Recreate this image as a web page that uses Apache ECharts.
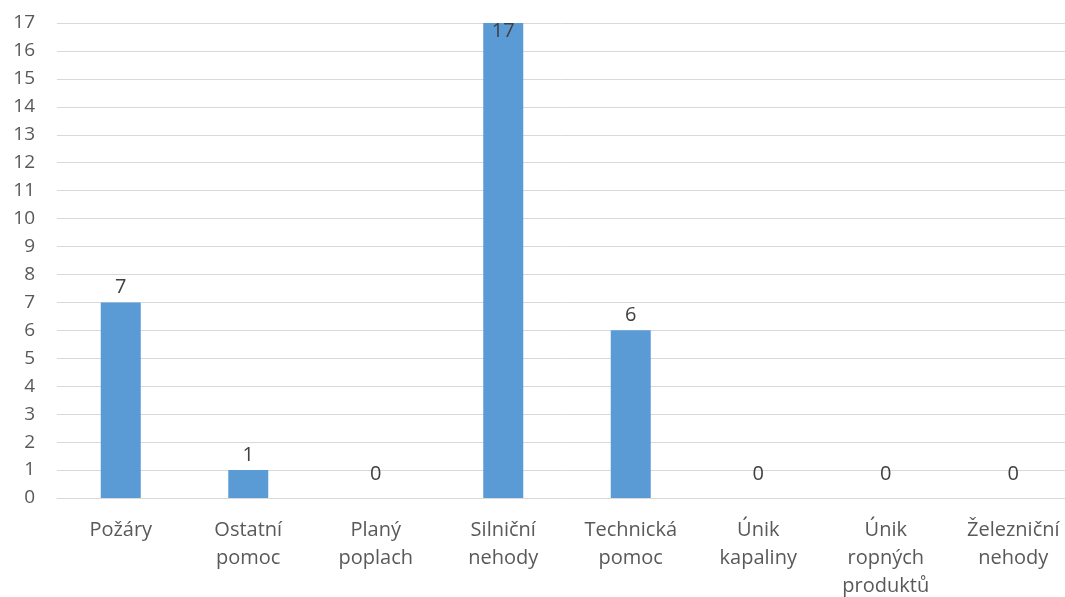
<!DOCTYPE html>
<html><head><meta charset="utf-8">
<script src="https://cdn.jsdelivr.net/npm/echarts@6/dist/echarts.min.js"></script>
<style>html,body{margin:0;padding:0;background:#fff}#c{width:1065px;height:597px}</style>
</head><body><div id="c"></div>
<script>
const categories = ['Požáry','Ostatní\npomoc','Planý\npoplach','Silniční\nnehody','Technická\npomoc','Únik\nkapaliny','Únik\nropných\nproduktů','Železniční\nnehody'];
const values = [7,1,0,17,6,0,0,0];
const yMin = 0, yMax = 17, yStep = 1;
const maxVal = Math.max(...values);
const chart = echarts.init(document.getElementById('c'));
const font = "'Open Sans', 'Liberation Sans', sans-serif";
chart.setOption({
  animation:false,
  grid:{left:57, top:23, right:-12, bottom:99, outerBoundsMode:'none', containLabel:false},
  xAxis:{type:'category', data:categories,
    axisLine:{lineStyle:{color:'#d9d9d9', width:1}}, axisTick:{show:false},
    axisLabel:{color:'#595959', fontSize:20, fontFamily:font, lineHeight:28, margin:18, interval:0}},
  yAxis:{type:'value', min:yMin, max:yMax, interval:yStep,
    axisLine:{show:false}, axisTick:{show:false},
    splitLine:{lineStyle:{color:'#d9d9d9', width:1}},
    axisLabel:{color:'#595959', fontSize:19, fontFamily:font, margin:22}},
  series:[{type:'bar', barWidth:40,
    itemStyle:{color:'#5b9bd5'},
    label:{show:true, position:'top', distance:5, color:'#404040', fontSize:20, fontFamily:font},
    data: values.map(v => v === maxVal ? {value:v, label:{position:'insideTop', distance:-2}}
                       : v === 0 ? {value:v, label:{distance:14}} : v)
  }]
});
</script></body></html>
